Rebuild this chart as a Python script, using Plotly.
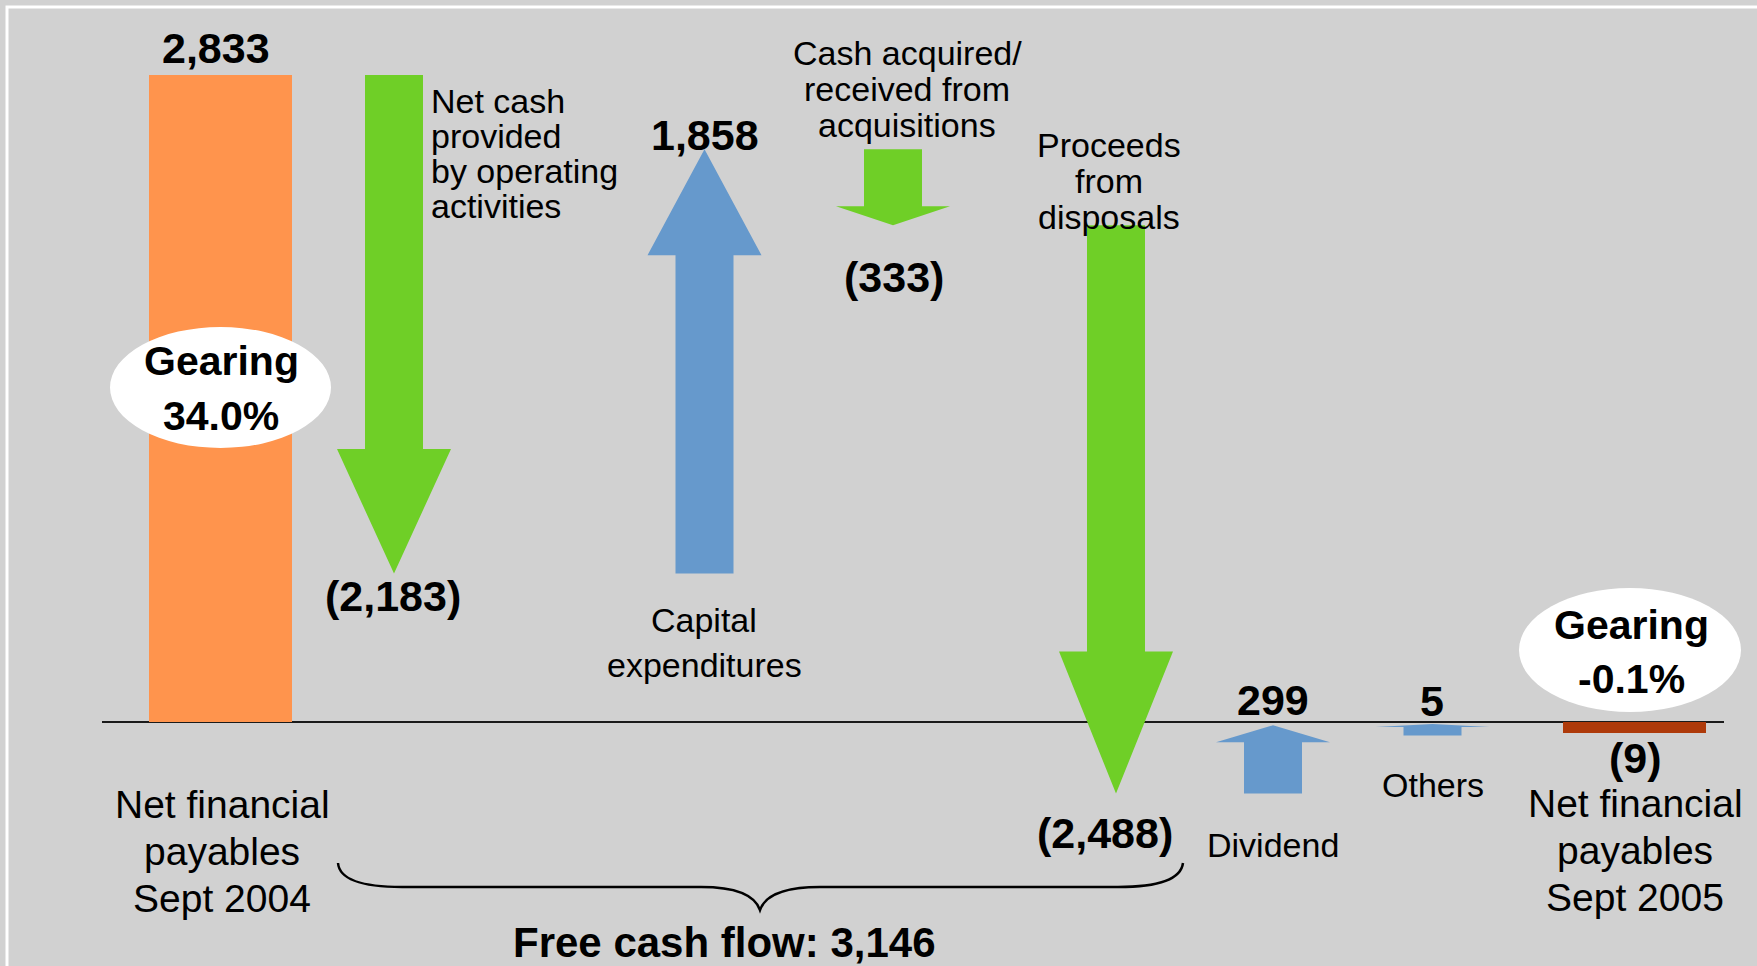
import plotly.graph_objects as go

W, H = 1757, 966

# ---------------- data ----------------
steps = ["Net financial payables Sept 2004",
         "Net cash provided by operating activities",
         "Capital expenditures",
         "Cash acquired/received from acquisitions",
         "Proceeds from disposals",
         "Dividend",
         "Others",
         "Net financial payables Sept 2005"]
values = [2833, -2183, 1858, -333, -2488, 299, 5, -9]
kinds = ["total", "delta", "delta", "delta", "delta", "delta", "delta", "total"]
gearing_labels = ["34.0%", "-0.1%"]
fcf_steps = [1, 2, 3, 4]          # items that make up free cash flow

# ---------------- style / layout ----------------
x_centers = [220.5, 394, 704.5, 893, 1116, 1273, 1432.5, 1634]
colors = ["#FF944D", "#6FCF27", "#6699CC", "#6FCF27", "#6FCF27", "#6699CC", "#6699CC", "#AE3A0A"]
BG = "#D1D1D1"
Y_RANGE = [-1068, 3161]
MIN_VIS = 50
BAR_W = 143
SHAFT_HW, HEAD_HW, HEAD_FRAC = 29, 57, 0.25
FONT = "Liberation Sans, Arial, sans-serif"


def fmt(v):
    s = f"{abs(v):,}"
    return f"({s})" if v < 0 else s


def py(p):
    return 1 - p / H


fig = go.Figure()

level = 0
for i, (v, k) in enumerate(zip(values, kinds)):
    sgn = 1 if v >= 0 else -1
    if k == "total":
        disp = sgn * max(abs(v), MIN_VIS)
        fig.add_trace(go.Bar(x=[x_centers[i]], y=[disp], width=BAR_W,
                             marker=dict(color=colors[i], line=dict(width=0)),
                             hoverinfo="skip"))
        level = v
    else:
        end = level + v
        start = end - sgn * max(abs(v), MIN_VIS)
        level = end
        xc = x_centers[i]
        L = end - start
        yh = end - HEAD_FRAC * L
        xs = [xc - SHAFT_HW, xc + SHAFT_HW, xc + SHAFT_HW, xc + HEAD_HW, xc,
              xc - HEAD_HW, xc - SHAFT_HW, xc - SHAFT_HW]
        ys = [start, start, yh, yh, end, yh, yh, start]
        fig.add_trace(go.Scatter(x=xs, y=ys, mode="lines", fill="toself",
                                 fillcolor=colors[i], line=dict(width=0, color=colors[i]),
                                 hoverinfo="skip"))

# zero line
fig.add_shape(type="line", xref="x", yref="y", x0=102, x1=1724, y0=0, y1=0,
              line=dict(color="#1A1A1A", width=2), layer="below")

# white frame
fig.add_shape(type="path", xref="paper", yref="paper",
              path=f"M {7/W},0 L {7/W},{py(7)} L 1,{py(7)}",
              line=dict(color="white", width=3))

# gearing ellipses
fig.add_shape(type="circle", xref="x", yref="paper", x0=110, x1=331, y0=py(448), y1=py(327),
              fillcolor="white", line=dict(width=0), layer="above")
fig.add_shape(type="circle", xref="x", yref="paper", x0=1519, x1=1741, y0=py(712), y1=py(588),
              fillcolor="white", line=dict(width=0), layer="above")

# brace
brace = (f"M 338,{py(863)} Q 340,{py(887)} 402,{py(887)} L 701,{py(887)} "
         f"Q 752,{py(887)} 760,{py(910)} Q 768,{py(887)} 820,{py(887)} "
         f"L 1118,{py(887)} Q 1180,{py(887)} 1183,{py(863)}")
fig.add_shape(type="path", xref="x", yref="paper", path=brace,
              line=dict(color="black", width=2.5))


def text(lines, x, base0, size, bold=False, spacing=None, anchor="center"):
    if spacing is None:
        spacing = size * 1.04
    for j, ln in enumerate(lines):
        b = base0 + j * spacing
        c = b - 0.35 * size
        fig.add_annotation(x=x, xref="x", y=py(c), yref="paper",
                           text=f"<b>{ln}</b>" if bold else ln, showarrow=False,
                           xanchor=anchor, yanchor="middle",
                           font=dict(family=FONT, size=size, color="black"))


# value labels
val_pos = [(216, 63), (393, 611), (705, 150), (894, 292), (1105, 848),
           (1273, 715), (1432, 716), (1635, 773)]
for i, v in enumerate(values):
    text([fmt(v)], val_pos[i][0], val_pos[i][1], 43, bold=True)

# category labels
text(["Net financial", "payables", "Sept 2004"], 222, 818, 39, spacing=47)
text(["Net cash", "provided", "by operating", "activities"], 429, 113, 34, spacing=35, anchor="left")
text(["Capital", "expenditures"], 704, 632, 34, spacing=45)
text(["Cash acquired/", "received from", "acquisitions"], 907, 65, 34, spacing=36)
text(["Proceeds", "from", "disposals"], 1109, 157, 34, spacing=36)
text(["Dividend"], 1273, 857, 34)
text(["Others"], 1433, 797, 34)
text(["Net financial", "payables", "Sept 2005"], 1635, 817, 39, spacing=47)

# gearing
text(["Gearing", gearing_labels[0]], 221, 375, 41, bold=True, spacing=55)
text(["Gearing", gearing_labels[1]], 1631, 639, 41, bold=True, spacing=54)

# free cash flow
fcf = -sum(values[i] for i in fcf_steps)
text([f"Free cash flow: {fcf:,}"], 724, 957, 42, bold=True)

fig.update_layout(
    width=W, height=H, margin=dict(l=0, r=0, t=0, b=0),
    paper_bgcolor=BG, plot_bgcolor=BG, showlegend=False,
    xaxis=dict(range=[0, W], visible=False, fixedrange=True),
    yaxis=dict(range=Y_RANGE, visible=False, fixedrange=True),
    bargap=0,
)

fig.write_html("out.html", config={"displayModeBar": False},
               post_script="document.body.style.margin='0';document.body.style.overflow='hidden';")
